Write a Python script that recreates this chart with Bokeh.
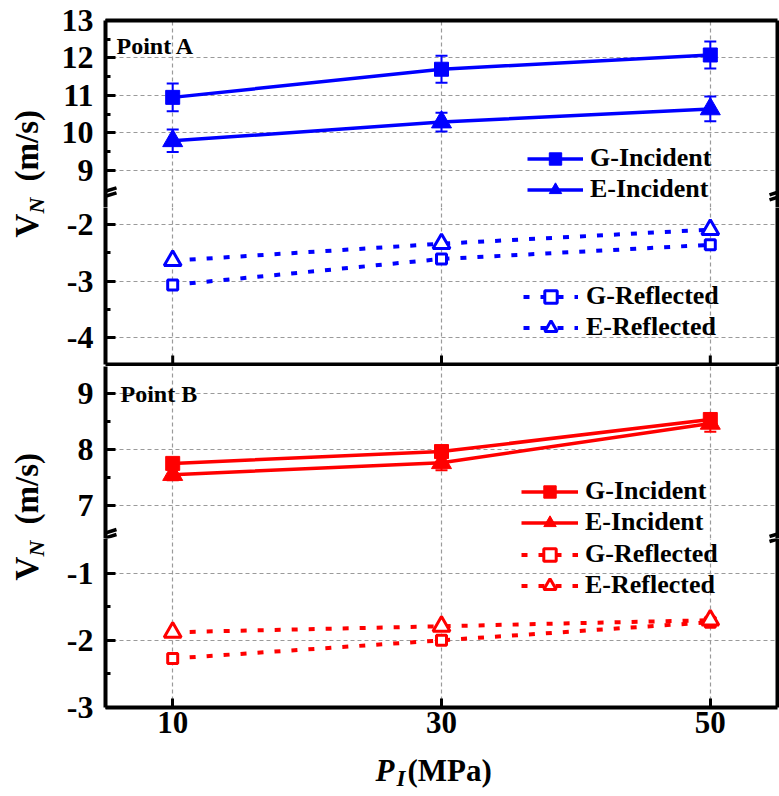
import math
from bokeh.plotting import figure
from bokeh.models import (Range1d, FixedTicker, LinearAxis, Legend, LegendItem, Label,
                          Arrow, Whisker, TeeHead, ColumnDataSource, Grid, CustomJSTickFormatter)
from bokeh.layouts import column, row
from bokeh.embed import file_html
from bokeh.resources import INLINE

# ---------------- data ----------------
x_vals = [10, 30, 50]
x_ticks = [10, 30, 50]

# Point A
a_g_inc = [10.95, 11.70, 12.08]
a_g_inc_err = [0.37, 0.36, 0.36]
a_e_inc = [9.79, 10.29, 10.64]
a_e_inc_err = [0.30, 0.25, 0.33]
a_g_ref = [-3.07, -2.61, -2.36]
a_e_ref = [-2.64, -2.34, -2.09]

# Point B
b_g_inc = [7.75, 7.96, 8.53]
b_g_inc_err = [0.08, 0.08, 0.08]
b_e_inc = [7.55, 7.76, 8.46]
b_e_inc_err = [0.10, 0.13, 0.15]
b_g_ref = [-2.27, -2.00, -1.73]
b_e_ref = [-1.88, -1.79, -1.70]

a_upper_ticks = [9, 10, 11, 12, 13]
a_upper_minor = [9.5, 10.5, 11.5, 12.5]
a_lower_ticks = [-4, -3, -2]
a_lower_minor = [-3.5, -2.5]
b_upper_ticks = [7, 8, 9]
b_upper_minor = [7.5, 8.5]
b_lower_ticks = [-3, -2, -1]
b_lower_minor = [-2.5, -1.5]

BLUE = "#0000FF"
RED = "#FF0000"
FONT = "Liberation Serif"
LABW = 58
W = 721
BL = 44
BR = 2
FRAME_W = W - BL - BR
LW_FRAME = 4
TICK_FONT = "32px"

xr = Range1d(5, 55)
fmt = CustomJSTickFormatter(code="return tick.toString()")


def blank_axis():
    return LinearAxis(ticker=FixedTicker(ticks=[]), axis_line_width=LW_FRAME, axis_line_color="black",
                      major_tick_in=0, major_tick_out=0, minor_tick_in=0, minor_tick_out=0,
                      major_label_standoff=0)


def make_fig(height, y0, y1, yticks, yminor, top_border, bottom_border, top_line, bottom_kind):
    frame_h = height - top_border - bottom_border
    p = figure(width=W, height=height, x_range=xr, y_range=Range1d(y0, y1), title=None,
               x_axis_type=None, y_axis_type=None, output_backend="svg", toolbar_location=None,
               min_border_left=BL, min_border_right=BR, min_border_top=top_border,
               min_border_bottom=bottom_border, outline_line_color=None)
    p.add_layout(Grid(dimension=0, ticker=FixedTicker(ticks=x_ticks), grid_line_color="#9a9a9a",
                      grid_line_dash="4 3", grid_line_width=1.2))
    p.add_layout(Grid(dimension=1, ticker=FixedTicker(ticks=yticks), grid_line_color="#9a9a9a",
                      grid_line_dash="4 3", grid_line_width=1.2))
    ly = LinearAxis(ticker=FixedTicker(ticks=yticks, minor_ticks=yminor), formatter=fmt,
                    axis_line_width=LW_FRAME, major_tick_in=10, major_tick_out=0,
                    minor_tick_in=5, minor_tick_out=0, major_tick_line_width=3,
                    minor_tick_line_width=3, major_label_standoff=12,
                    major_label_text_font=FONT, major_label_text_font_style="bold",
                    major_label_text_font_size=TICK_FONT, major_label_text_color="black")
    p.add_layout(ly, "left")
    p.add_layout(blank_axis(), "right")
    if top_line:
        p.add_layout(blank_axis(), "above")
    if bottom_kind == "labels":
        bx = LinearAxis(ticker=FixedTicker(ticks=x_ticks), formatter=fmt,
                        axis_line_width=LW_FRAME, major_tick_in=9, major_tick_out=0,
                        major_tick_line_width=3, minor_tick_in=0, minor_tick_out=0,
                        major_label_text_font=FONT, major_label_text_font_style="bold",
                        major_label_text_color="black", major_label_text_font_size="31px",
                        major_label_standoff=4)
        p.add_layout(bx, "below")
    elif bottom_kind == "ticks":
        p.add_layout(blank_axis(), "below")
        d = 9 * (y1 - y0) / frame_h
        p.segment(x0=x_ticks, x1=x_ticks, y0=[y0] * len(x_ticks), y1=[y0 + d] * len(x_ticks),
                  line_color="black", line_width=3)
    return p


def break_marks(p, cy):
    for cx in (0, FRAME_W):
        for dy in (2.5, -2.5):
            p.add_layout(Arrow(end=None, x_start=cx - 11, y_start=cy + dy - 3.5,
                               x_end=cx + 11, y_end=cy + dy + 3.5,
                               start_units="screen", end_units="screen",
                               line_width=3.5, line_color="black"))


def errbars(p, ys, errs, color):
    src = ColumnDataSource(dict(x=x_vals, upper=[y + e for y, e in zip(ys, errs)],
                                lower=[y - e for y, e in zip(ys, errs)]))
    p.add_layout(Whisker(source=src, base="x", upper="upper", lower="lower",
                         line_color=color, line_width=2,
                         upper_head=TeeHead(size=12, line_color=color, line_width=2),
                         lower_head=TeeHead(size=12, line_color=color, line_width=2)))


def incident(p, ys, color, marker, size):
    l = p.line(x_vals, ys, line_color=color, line_width=3.5)
    s = p.scatter(x_vals, ys, marker=marker, size=size, fill_color=color, line_color=color)
    return [l, s]


def reflected(p, ys, color, marker, size):
    l = p.line(x_vals, ys, line_color=color, line_width=4, line_dash="6 11")
    s = p.scatter(x_vals, ys, marker=marker, size=size, fill_color="white",
                  line_color=color, line_width=3)
    return [l, s]


def legend(p, items, loc, glyph_w, standoff):
    leg = Legend(items=[LegendItem(label=t, renderers=r) for t, r in items], location=loc,
                 background_fill_alpha=0, border_line_color=None, padding=0, margin=0,
                 label_text_font=FONT, label_text_font_style="bold", label_text_font_size="26px",
                 label_text_color="black",
                 glyph_width=glyph_w, glyph_height=31, label_height=31, label_standoff=standoff,
                 spacing=0)
    p.add_layout(leg)


def text_label(p, x, y, t, size, style="bold", angle=0, baseline="middle"):
    p.add_layout(Label(x=x, y=y, x_units="screen", y_units="screen", text=t, text_font=FONT,
                       text_font_style=style, text_font_size=size, angle=angle,
                       text_align="left", text_baseline=baseline, text_color="black"))


# ---------------- Point A ----------------
f1 = make_fig(207, 8.013, 13.0, a_upper_ticks, a_upper_minor, 20, 0, True, None)
errbars(f1, a_g_inc, a_g_inc_err, BLUE)
errbars(f1, a_e_inc, a_e_inc_err, BLUE)
r_ag = incident(f1, a_g_inc, BLUE, "square", 14)
r_ae = incident(f1, a_e_inc, BLUE, "triangle", 20)
legend(f1, [("G-Incident", r_ag), ("E-Incident", r_ae)], (422, 2.5), 56, 7)
text_label(f1, 11, 162, "Point A", "24px")
break_marks(f1, 13.7)

f2 = make_fig(159, -4.478, -1.699, a_lower_ticks, a_lower_minor, 0, 2, False, "ticks")
r_agr = reflected(f2, a_g_ref, BLUE, "square", 10)
r_aer = reflected(f2, a_e_ref, BLUE, "triangle", 17)
legend(f2, [("G-Reflected", r_agr), ("E-Reflected", r_aer)], (418, 21.5), 55, 8)

# ---------------- Point B ----------------
f3 = make_fig(172, 6.416, 9.471, b_upper_ticks, b_upper_minor, 0, 0, False, None)
errbars(f3, b_g_inc, b_g_inc_err, RED)
errbars(f3, b_e_inc, b_e_inc_err, RED)
r_bg = incident(f3, b_g_inc, RED, "square", 14)
r_be = incident(f3, b_e_inc, RED, "triangle", 20)
legend(f3, [("G-Incident", r_bg), ("E-Incident", r_be)], (416, 0.5), 57, 7)
text_label(f3, 15, 145, "Point B", "24px")
break_marks(f3, 3)

f4 = make_fig(209, -3.0, -0.484, b_lower_ticks, b_lower_minor, 0, 40, False, "labels")
r_bgr = reflected(f4, b_g_ref, RED, "square", 10)
r_ber = reflected(f4, b_e_ref, RED, "triangle", 17)
legend(f4, [("G-Reflected", r_bgr), ("E-Reflected", r_ber)], (416, 106.5), 57, 7)
break_marks(f4, 172)


# ---------------- axis titles ----------------
def blank_fig(w, h):
    return figure(width=w, height=h, x_range=Range1d(0, 1), y_range=Range1d(0, 1), title=None,
                  x_axis_type=None, y_axis_type=None, output_backend="svg", toolbar_location=None,
                  min_border=0, min_border_top=0, min_border_bottom=0, min_border_left=0,
                  min_border_right=0, outline_line_color=None)


# one tall canvas for both y-axis titles (page y 0..747)
ylab = blank_fig(LABW, 747)
ANG = math.pi / 2
for base in (510, 167):   # screen-y of the start of "V" for Point A and Point B
    text_label(ylab, 26, base, "V", "33px", "bold", angle=ANG)
    text_label(ylab, 36, base + 24, "N", "22px", "bold italic", angle=ANG)
    text_label(ylab, 26, base + 56, "(m/s)", "33px", "bold", angle=ANG)

xlab = blank_fig(LABW + W, 48)
text_label(xlab, 375, 25, "P", "31px", "bold italic")
text_label(xlab, 396, 17, "I", "23px", "bold italic")
text_label(xlab, 407, 25, "(MPa)", "31px", "bold")

layout = column(row(ylab, column(f1, f2, f3, f4)), xlab)

open("out.html", "w").write(file_html(layout, INLINE))
